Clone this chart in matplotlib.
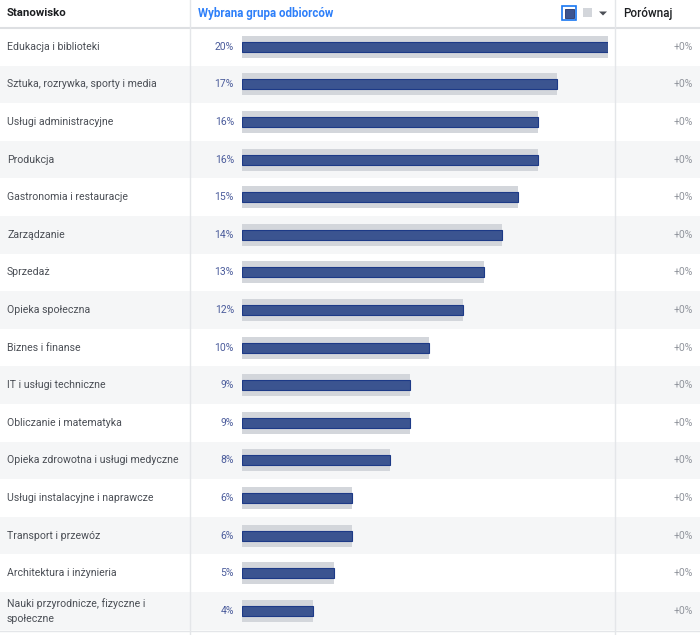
import matplotlib
matplotlib.use("Agg")
import matplotlib.pyplot as plt
from matplotlib.patches import Rectangle, Polygon

plt.rcParams['font.family'] = ['Roboto', 'DejaVu Sans']

categories = [
    "Edukacja i biblioteki",
    "Sztuka, rozrywka, sporty i media",
    "Usługi administracyjne",
    "Produkcja",
    "Gastronomia i restauracje",
    "Zarządzanie",
    "Sprzedaż",
    "Opieka społeczna",
    "Biznes i finanse",
    "IT i usługi techniczne",
    "Obliczanie i matematyka",
    "Opieka zdrowotna i usługi medyczne",
    "Usługi instalacyjne i naprawcze",
    "Transport i przewóz",
    "Architektura i inżynieria",
    "Nauki przyrodnicze, fizyczne i\nspołeczne",
]
values = [20.0, 17.2, 16.2, 16.2, 15.1, 14.2, 13.2, 12.1, 10.2, 9.2, 9.2, 8.1, 6.0, 6.0, 5.0, 3.9]
labels = ["20%", "17%", "16%", "16%", "15%", "14%", "13%", "12%", "10%",
          "9%", "9%", "8%", "6%", "6%", "5%", "4%"]
compare = ["+0%"] * len(categories)

W, H = 700, 635
header_h = 28
row_h = 37.6
n = len(categories)

fig = plt.figure(figsize=(W / 100, H / 100), dpi=100)
bg = fig.add_axes([0, 0, 1, 1])
bg.set_xlim(0, W)
bg.set_ylim(H, 0)
bg.axis('off')

# row stripes + text
for i in range(n):
    top = header_h + i * row_h
    if i % 2 == 1:
        bg.add_patch(Rectangle((0, top), W, row_h, color='#f5f6f7', lw=0, zorder=0))
    yc = top + row_h / 2
    bg.text(7, yc, categories[i], ha='left', va='center', fontsize=7.6,
            color='#4b4f56', linespacing=1.6)
    bg.text(234, yc, labels[i], ha='right', va='center', fontsize=7.5, color='#4a5b9b')
    bg.text(693, yc, compare[i], ha='right', va='center', fontsize=7.5, color='#90949c')
bg.axhline(header_h + n * row_h + 1.5, color='#e4e6e9', lw=1, zorder=2)

# header
bg.axhline(header_h, color='#dddfe2', lw=1.5, zorder=2)
bg.axvline(190, color='#e4e6e9', lw=1, zorder=2)
bg.axvline(615, color='#e4e6e9', lw=1, zorder=2)
bg.text(7, 13, "Stanowisko", ha='left', va='center', fontsize=8.2,
        fontweight='bold', color='#1c1e21')
bg.text(198, 13, "Wybrana grupa odbiorców", ha='left', va='center', fontsize=8.3,
        fontweight='bold', color='#2d7ff9')
bg.text(623, 13, "Porównaj", ha='left', va='center', fontsize=8.4,
        fontweight='medium', color='#1c1e21')

# header icons
bg.add_patch(Rectangle((562, 6), 14, 14, fc='white', ec='#1877f2', lw=1.2, zorder=3))
bg.add_patch(Rectangle((564.5, 8.5), 9, 9, fc='#3b5490', ec='#24346b', lw=0.6, zorder=4))
bg.add_patch(Rectangle((583, 8), 9, 9, fc='#d3d6db', lw=0, zorder=3))
bg.add_patch(Polygon([(599, 11.5), (607, 11.5), (603, 15.5)], closed=True,
                     fc='#4b4f56', lw=0, zorder=3))

# bars
x0, x1 = 242, 608
ax = fig.add_axes([x0 / W, 1 - (header_h + n * row_h) / H,
                   (x1 - x0) / W, n * row_h / H])
ax.patch.set_alpha(0)
ax.set_xlim(0, max(values))
ax.set_ylim(n - 0.5, -0.5)
ax.axis('off')
ypos = list(range(n))
ax.barh(ypos, values, height=22 / row_h, color='#d3d6db', lw=0)
ax.barh(ypos, values, height=10 / row_h, color='#3b5490', edgecolor='#1d3a87', lw=0.8)

fig.savefig('out.png', dpi=100)
